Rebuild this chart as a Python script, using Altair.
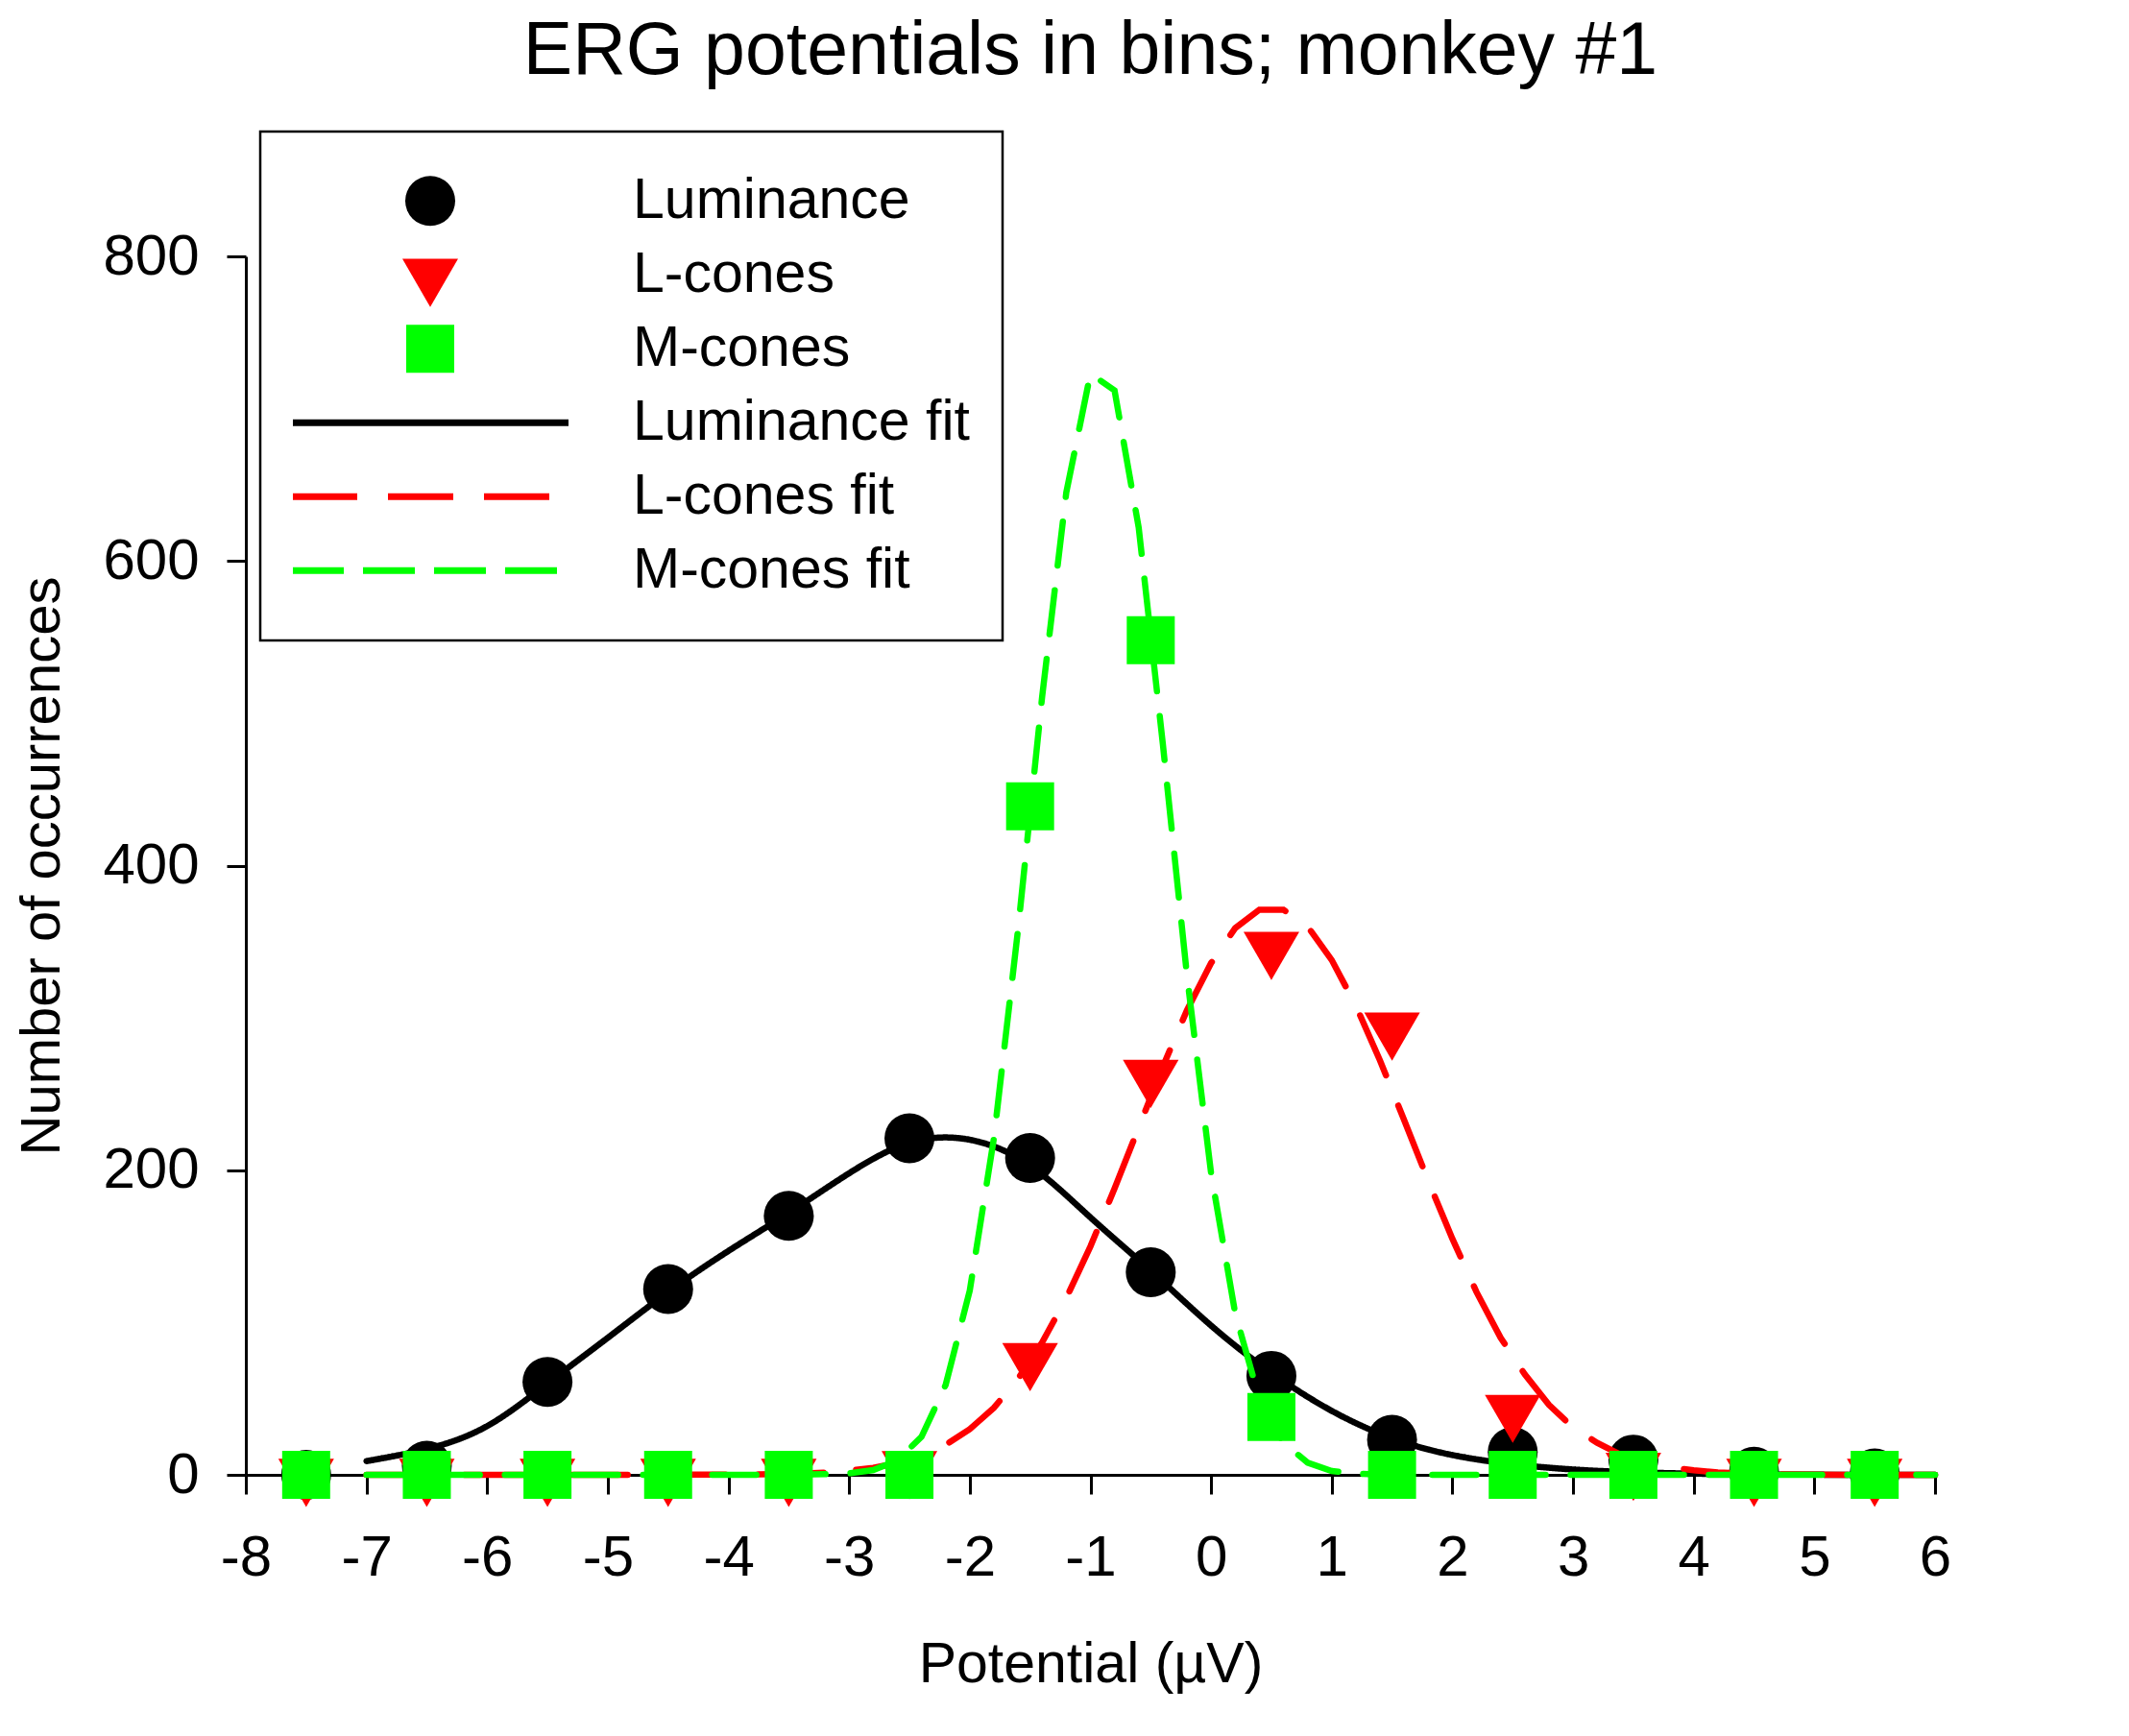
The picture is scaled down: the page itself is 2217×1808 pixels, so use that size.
import altair as alt
import pandas as pd

FONT = "Liberation Sans"

# ---------------- data ----------------
bins = [-7.5, -6.5, -5.5, -4.5, -3.5, -2.5, -1.5, -0.5, 0.5, 1.5, 2.5, 3.5, 4.5, 5.5]
luminance = [0, 6, 61, 122, 170, 221, 208, 133, 65, 23, 15, 10, 2, 1]
l_cones = [0, 0, 0, 0, 0, 5, 76, 262, 346, 293, 42, 4, 0, 0]
m_cones = [0, 0, 0, 0, 0, 0, 439, 548, 38, 0, 0, 0, 0, 0]

lum_fit_x = [-7, -6.5, -6, -5.5, -5, -4.5, -4, -3.5, -3, -2.5, -2, -1.5, -1,
             -0.5, 0, 0.5, 1, 1.5, 2, 2.5, 3, 3.5, 4, 4.5, 5, 5.5, 6]
lum_fit_y = [9, 17, 32, 60, 90, 120, 147, 172, 198, 218, 220, 203, 169,
             134, 98, 67, 42, 24, 13, 7, 3.5, 1.7, 0.8, 0.3, 0.1, 0, 0]

l_fit_x = [-7, -5, -4, -3.6, -3.4, -3.2, -3.0, -2.8, -2.6, -2.4, -2.2, -2.0, -1.8, -1.6,
           -1.4, -1.2, -1.0, -0.8, -0.6, -0.4, -0.2, 0.0, 0.2, 0.4, 0.6, 0.8, 1.0, 1.2,
           1.4, 1.6, 1.8, 2.0, 2.2, 2.4, 2.6, 2.8, 3.0, 3.2, 3.4, 3.6, 3.8, 4.0, 4.2,
           4.4, 4.6, 5.0, 6.0]
l_fit_y = [0, 0, 0.2, 0.5, 0.8, 1.5, 2.7, 4.6, 7.7, 12.5, 19.7, 30, 44, 63,
           87, 116, 150, 188, 228, 268, 305, 336, 359, 371, 371, 360, 338, 308,
           272, 233, 193, 155, 120, 90, 66, 46, 31, 21, 13, 8, 5, 3, 1.6,
           0.9, 0.4, 0.1, 0]

m_fit_x = [-7, -4, -3.4, -3.2, -3.0, -2.8, -2.6, -2.4, -2.2, -2.0, -1.8, -1.6, -1.4,
           -1.2, -1.0, -0.8, -0.6, -0.4, -0.2, 0.0, 0.2, 0.4, 0.6, 0.8, 1.0, 1.2,
           1.4, 1.6, 2.0, 6.0]
m_fit_y = [0, 0, 0.1, 0.4, 1.0, 3.1, 9.5, 25, 59, 121, 221, 358, 511,
           645, 723, 712, 622, 480, 328, 198, 106, 50, 21, 8, 2.5, 0.8,
           0.2, 0.05, 0, 0]

series_names = ["Luminance", "L-cones", "M-cones", "Luminance fit", "L-cones fit", "M-cones fit"]
series_colors = ["#000000", "#ff0000", "#00ff00", "#000000", "#ff0000", "#00ff00"]
TRI_DOWN = "M-1,-0.577L1,-0.577L0,1.155Z"   # downward triangle centred on its centroid
marker_shapes = ["circle", TRI_DOWN, "square"]
marker_sizes = [2704, 3364, 2500]
fit_dashes = [[1, 0], [68, 34], [46, 26]]

x_ticks = list(range(-8, 7))
y_ticks = [0, 200, 400, 600, 800]

# ---------------- tables ----------------
points = pd.concat([
    pd.DataFrame({"x": bins, "y": luminance, "series": series_names[0]}),
    pd.DataFrame({"x": bins, "y": l_cones, "series": series_names[1]}),
    pd.DataFrame({"x": bins, "y": m_cones, "series": series_names[2]}),
], ignore_index=True)

fits = pd.concat([
    pd.DataFrame({"x": lum_fit_x, "y": lum_fit_y, "series": series_names[3]}),
    pd.DataFrame({"x": l_fit_x, "y": l_fit_y, "series": series_names[4]}),
    pd.DataFrame({"x": m_fit_x, "y": m_fit_y, "series": series_names[5]}),
], ignore_index=True)

W, H = 1759, 1269

x_axis = alt.Axis(
    values=x_ticks, labelExpr="'' + datum.value", title="Potential (µV)",
    grid=False, labelFlush=False, labelOverlap=False,
    labelFont=FONT, labelFontSize=60, labelColor="black",
    labelBaseline="alphabetic", labelPadding=84,
    tickSize=20, tickWidth=3, tickColor="black",
    domainColor="black", domainWidth=3,
    titleFont=FONT, titleFontSize=59, titleFontWeight="normal", titleColor="black",
    titleBaseline="alphabetic", titleAlign="center", titleX=W / 2, titleY=215,
)
y_axis = alt.Axis(
    values=y_ticks, labelExpr="'' + datum.value", title="Number of occurrences",
    grid=False, labelFlush=False, labelOverlap=False,
    labelFont=FONT, labelFontSize=60, labelColor="black", labelPadding=29,
    tickSize=20, tickWidth=3, tickColor="black",
    domainColor="black", domainWidth=3,
    titleFont=FONT, titleFontSize=58, titleFontWeight="normal", titleColor="black",
    titleBaseline="alphabetic", titleAlign="center", titleAngle=270,
    titleX=-195, titleY=H / 2,
)

x_enc = alt.X("x:Q", scale=alt.Scale(domain=[-8, 6], nice=False, zero=False), axis=x_axis)
y_enc = alt.Y("y:Q", scale=alt.Scale(domain=[0, 800], nice=False), axis=y_axis)

fill_expr = ("datum.value == 'Luminance' ? '#000000' : datum.value == 'L-cones' ? '#ff0000' : "
             "datum.value == 'M-cones' ? '#00ff00' : 'transparent'")
stroke_expr = ("datum.value == 'Luminance fit' ? '#000000' : datum.value == 'L-cones fit' ? '#ff0000' : "
               "datum.value == 'M-cones fit' ? '#00ff00' : 'transparent'")
shape_expr = ("datum.value == 'Luminance' ? 'circle' : datum.value == 'L-cones' ? '" + TRI_DOWN + "' : "
              "datum.value == 'M-cones' ? 'square' : 'stroke'")
size_expr = ("datum.value == 'Luminance' ? 2704 : datum.value == 'L-cones' ? 3364 : "
             "datum.value == 'M-cones' ? 2500 : 82944")
width_expr = "indexof(['Luminance', 'L-cones', 'M-cones'], datum.value) >= 0 ? 0 : 7"
dash_expr = "datum.value == 'L-cones fit' ? [68, 32] : datum.value == 'M-cones fit' ? [54, 20] : [1, 0]"

legend = alt.Legend(
    title=None, orient="none", legendX=15, legendY=-130, direction="vertical", columns=1,
    padding=34, strokeColor="black", fillColor="white",
    clipHeight=76.5, rowPadding=0, symbolOffset=113.5, labelOffset=181.5, labelLimit=0,
    labelFont=FONT, labelFontSize=59, labelColor="black", labelBaseline="middle",
    symbolType={"expr": shape_expr}, symbolSize={"expr": size_expr},
    symbolFillColor={"expr": fill_expr}, symbolStrokeColor={"expr": stroke_expr},
    symbolStrokeWidth={"expr": width_expr}, symbolDash={"expr": dash_expr},
    symbolOpacity=1,
)

color_enc = alt.Color("series:N", scale=alt.Scale(domain=series_names, range=series_colors), legend=legend)
shape_enc = alt.Shape("series:N", scale=alt.Scale(domain=series_names[:3], range=marker_shapes), legend=None)
dash_enc = alt.StrokeDash("series:N", scale=alt.Scale(domain=series_names[3:], range=fit_dashes), legend=None)


def point_layer(i):
    return alt.Chart(points).transform_filter(
        alt.datum.series == series_names[i]
    ).mark_point(filled=True, opacity=1, size=marker_sizes[i]).encode(
        x=x_enc, y=y_enc, color=color_enc, shape=shape_enc
    )


def fit_layer(i):
    interp = "natural" if i == 0 else "linear"
    return alt.Chart(fits).transform_filter(
        alt.datum.series == series_names[3 + i]
    ).mark_line(interpolate=interp, strokeCap="round").encode(
        x=x_enc, y=y_enc, color=color_enc, strokeDash=dash_enc,
        strokeWidth=alt.value(6.5)
    )


chart = alt.layer(
    point_layer(0), fit_layer(0),
    point_layer(1), fit_layer(1),
    point_layer(2), fit_layer(2),
).properties(
    width=W, height=H,
    padding={"left": 248, "top": 259, "right": 150, "bottom": 240},
    autosize=alt.AutoSizeParams(type="none"),
    title=alt.TitleParams(
        text="ERG potentials in bins; monkey #1", font=FONT, fontSize=77,
        fontWeight="normal", color="black", anchor="middle",
        baseline="alphabetic", offset=-18,
    ),
).configure_view(stroke=None).configure_legend(strokeWidth=2.5)

chart.save("out.html", embed_options={"renderer": "svg", "actions": False})
